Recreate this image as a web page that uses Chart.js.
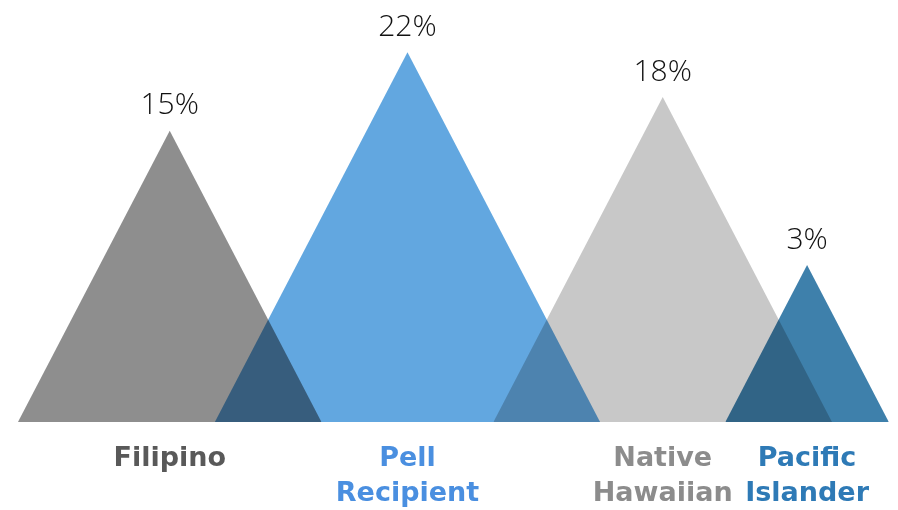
<!DOCTYPE html>
<html>
<head>
<meta charset="utf-8">
<script src="https://cdn.jsdelivr.net/npm/chart.js@4.4.0/dist/chart.umd.min.js"></script>
<style>
  html, body { margin: 0; padding: 0; background: #fff; }
  #wrap { width: 898px; height: 510px; }
</style>
</head>
<body>
<div id="wrap"><canvas id="picos"></canvas></div>
<script>
// Datos
const categorias = [['Filipino'], ['Pell', 'Recipient'], ['Native', 'Hawaiian'], ['Pacific', 'Islander']];
const porcentajes = [15, 22, 18, 3];
const etiquetas = ['15%', '22%', '18%', '3%'];

const relleno = ['#8e8e8e', '#62a7e0', '#c8c8c8', '#3e80ab'];
const colorTexto = ['#595959', '#4a8fe0', '#8c8c8c', '#2e7ab6'];

// Escala: el eje y arranca por debajo de cero para que el 3% se vea
const yMin = -11, yMax = 23;
const ancho = 0.52;     // media base del triángulo por unidad de altura
const solape = 9.5;     // cuánto se montan los picos vecinos
let borde = 1.6;

const centros = [];
const datasets = porcentajes.map((v, i) => {
  const medio = ancho * (v - yMin);
  const c = (i === 0 ? borde : borde - solape) + medio;
  borde = c + medio;
  centros.push(c);
  return {
    label: categorias[i].join(' '),
    data: [{ x: c - medio, y: yMin }, { x: c, y: v }, { x: c + medio, y: yMin }],
    backgroundColor: relleno[i],
    borderWidth: 0,
    pointRadius: 0,
    tension: 0,
    fill: 'start'
  };
});

// Los solapes se oscurecen como en una mezcla "multiply"
const mezcla = {
  id: 'mezcla',
  beforeDatasetsDraw(chart) { chart.ctx.save(); chart.ctx.globalCompositeOperation = 'multiply'; },
  afterDatasetsDraw(chart) { chart.ctx.restore(); }
};

// Porcentaje sobre cada pico
const valores = {
  id: 'valores',
  afterDatasetsDraw(chart) {
    const ctx = chart.ctx;
    ctx.save();
    ctx.fillStyle = '#111';
    ctx.font = '300 30px "Open Sans"';
    ctx.textAlign = 'center';
    ctx.textBaseline = 'bottom';
    chart.data.datasets.forEach((d, i) => {
      const pico = chart.getDatasetMeta(i).data[1];
      ctx.fillText(etiquetas[i], pico.x, pico.y - 10);
    });
    ctx.restore();
  }
};

new Chart(document.getElementById('picos'), {
  type: 'line',
  data: { datasets },
  options: {
    responsive: true,
    maintainAspectRatio: false,
    animation: false,
    layout: { padding: { top: 41, left: 0, right: 0, bottom: 0 } },
    plugins: { legend: { display: false }, tooltip: { enabled: false } },
    scales: {
      x: {
        type: 'linear',
        min: 0,
        max: 80,
        grid: { display: false, drawTicks: false },
        border: { display: false },
        afterBuildTicks(scale) { scale.ticks = centros.map(c => ({ value: c })); },
        afterFit(scale) { scale.height = 88; },
        ticks: {
          autoSkip: false,
          maxRotation: 0,
          padding: 19,
          font: { family: 'DejaVu Sans', size: 27, weight: 'bold', lineHeight: 1.3 },
          color: ctx => colorTexto[ctx.index],
          callback: (val, i) => categorias[i]
        }
      },
      y: { display: false, min: yMin, max: yMax }
    }
  },
  plugins: [mezcla, valores]
});
</script>
</body>
</html>
